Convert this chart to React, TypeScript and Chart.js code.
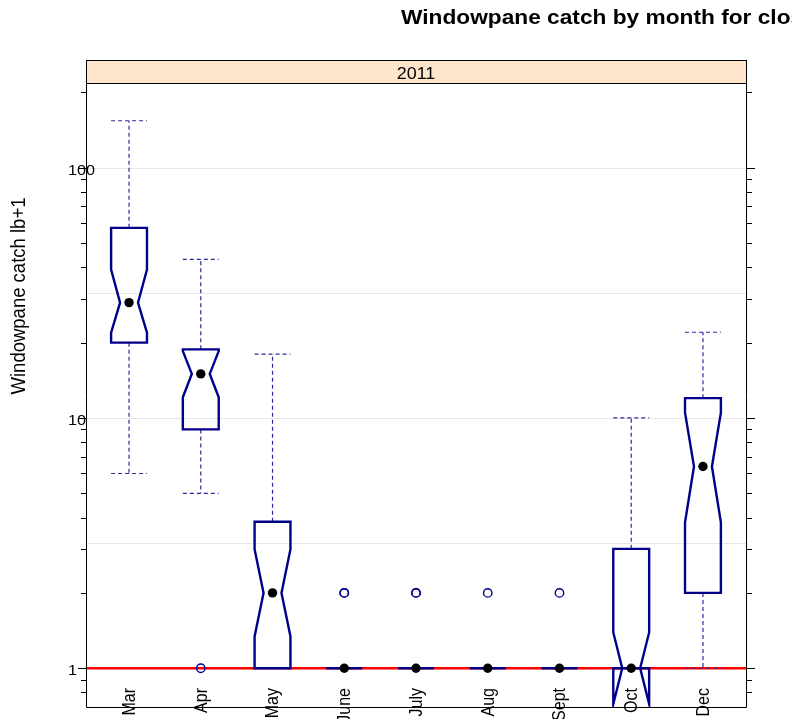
import React, { useEffect, useRef } from "react";
import { Chart, registerables } from "chart.js";

Chart.register(...registerables);

// ---- data ----
const titleText = "Windowpane catch by month for clos";
const stripLabel = "2011";
const yAxisLabel = "Windowpane catch lb+1";
const categories = ["Mar", "Apr", "May", "June", "July", "Aug", "Sept", "Oct", "Dec"];
const whiskerLow = [6, 5, 1, 1, 1, 1, 1, 1, 1];
const boxLow = [20, 9, 1, 1, 1, 1, 1, 1, 2];
const medians = [28.9, 15, 2, 1, 1, 1, 1, 1, 6.4];
const boxHigh = [57.5, 18.8, 3.85, 1, 1, 1, 1, 3, 12];
const whiskerHigh = [154, 43, 18, 1, 1, 1, 1, 10, 22];
const notchLow = [21.9, 12.1, 1.34, 1, 1, 1, 1, 0.72, 3.83];
const notchHigh = [39.2, 18.5, 2.99, 1, 1, 1, 1, 1.39, 10.5];
const outliers: number[][] = [[], [1], [], [2, 2], [2, 2], [2], [2], [], []];
const referenceValue = 1;
const yMin = 0.705;
const yMax = 218;
const yTickLabels = [1, 10, 100];
const yMinorTicks = [0.8, 0.9, 1, 2, 3, 4, 5, 6, 7, 8, 9, 10, 20, 30, 40, 50, 60, 70, 80, 90, 100, 200];
const gridValues = [1, 3.1623, 10, 31.623, 100];

const BOX_COL = "#00008B";
const WHISK_COL = "#2a2aa0";
const FONT = '"Liberation Sans", Arial, Helvetica, sans-serif';

const boxPlugin = {
  id: "latticeBox",
  beforeDatasetsDraw(chart: any) {
    const { ctx, chartArea: a, scales } = chart;
    const y = scales.y;
    ctx.save();
    ctx.strokeStyle = "#E6E6E6";
    ctx.lineWidth = 1;
    gridValues.forEach((v) => {
      const py = Math.round(y.getPixelForValue(v)) + 0.5;
      ctx.beginPath();
      ctx.moveTo(a.left, py);
      ctx.lineTo(a.right, py);
      ctx.stroke();
    });
    ctx.restore();
  },
  afterDatasetDraw(chart: any, args: any) {
    if (args.index !== 0) return;
    const { ctx, scales, chartArea: a } = chart;
    const xs = scales.x;
    const ys = scales.y;
    const half = 0.25;
    const inner = 0.125;
    ctx.save();
    ctx.beginPath();
    ctx.rect(a.left, a.top, a.right - a.left, a.bottom - a.top);
    ctx.clip();
    categories.forEach((_, i) => {
      const c = i + 1;
      const L = xs.getPixelForValue(c - half);
      const R = xs.getPixelForValue(c + half);
      const iL = xs.getPixelForValue(c - inner);
      const iR = xs.getPixelForValue(c + inner);
      const C = xs.getPixelForValue(c);
      const hi = ys.getPixelForValue(boxHigh[i]);
      const lo = ys.getPixelForValue(boxLow[i]);
      const md = ys.getPixelForValue(medians[i]);
      const nh = ys.getPixelForValue(notchHigh[i]);
      const nl = ys.getPixelForValue(notchLow[i]);
      const wh = ys.getPixelForValue(whiskerHigh[i]);
      const wl = ys.getPixelForValue(whiskerLow[i]);
      // whiskers
      ctx.strokeStyle = WHISK_COL;
      ctx.lineWidth = 1.2;
      ctx.setLineDash([4, 3]);
      ctx.beginPath();
      ctx.moveTo(C, hi);
      ctx.lineTo(C, wh);
      ctx.moveTo(L, wh);
      ctx.lineTo(R, wh);
      ctx.moveTo(C, lo);
      ctx.lineTo(C, wl);
      ctx.moveTo(L, wl);
      ctx.lineTo(R, wl);
      ctx.stroke();
      ctx.setLineDash([]);
      // notched box
      ctx.strokeStyle = BOX_COL;
      ctx.lineWidth = 2.4;
      ctx.lineJoin = "miter";
      ctx.beginPath();
      ctx.moveTo(L, hi);
      ctx.lineTo(L, nh);
      ctx.lineTo(iL, md);
      ctx.lineTo(L, nl);
      ctx.lineTo(L, lo);
      ctx.lineTo(R, lo);
      ctx.lineTo(R, nl);
      ctx.lineTo(iR, md);
      ctx.lineTo(R, nh);
      ctx.lineTo(R, hi);
      ctx.closePath();
      ctx.stroke();
    });
    ctx.restore();
  },
  afterDraw(chart: any) {
    const { ctx, chartArea: a, scales } = chart;
    const xs = scales.x;
    const ys = scales.y;
    ctx.save();
    // panel frame
    ctx.strokeStyle = "#000";
    ctx.lineWidth = 1;
    ctx.beginPath();
    ctx.moveTo(a.left + 0.5, a.top);
    ctx.lineTo(a.left + 0.5, a.bottom + 0.5);
    ctx.lineTo(a.right + 0.5, a.bottom + 0.5);
    ctx.lineTo(a.right + 0.5, a.top);
    ctx.stroke();
    // strip
    const stripTop = a.top - 23;
    ctx.fillStyle = "#FFE5CC";
    ctx.fillRect(a.left, stripTop, a.right - a.left, 23);
    ctx.strokeRect(a.left + 0.5, stripTop + 0.5, a.right - a.left, 23);
    ctx.fillStyle = "#000";
    ctx.font = `16px ${FONT}`;
    ctx.textAlign = "center";
    ctx.textBaseline = "alphabetic";
    ctx.save();
    ctx.translate((a.left + a.right) / 2, stripTop + 19);
    ctx.scale(1.12, 1);
    ctx.fillText(stripLabel, 0, 0);
    ctx.restore();
    // y ticks on both sides
    yMinorTicks.forEach((v) => {
      const py = Math.round(ys.getPixelForValue(v)) + 0.5;
      if (py < a.top - 20 || py > a.bottom) return;
      const major = yTickLabels.includes(v);
      const len = major ? 8 : 5;
      ctx.beginPath();
      ctx.moveTo(a.left, py);
      ctx.lineTo(a.left - len, py);
      ctx.moveTo(a.right + 1, py);
      ctx.lineTo(a.right + 1 + len, py);
      ctx.stroke();
    });
    // y tick labels
    ctx.font = `15px ${FONT}`;
    ctx.textAlign = "left";
    ctx.textBaseline = "middle";
    yTickLabels.forEach((v) => {
      const py = ys.getPixelForValue(v);
      ctx.save();
      ctx.translate(68, py + 3);
      ctx.scale(1.08, 1);
      ctx.fillText(String(v), 0, 0);
      ctx.restore();
    });
    // x category labels (rotated)
    ctx.font = `16px ${FONT}`;
    ctx.textAlign = "right";
    ctx.textBaseline = "middle";
    categories.forEach((c, i) => {
      const px = xs.getPixelForValue(i + 1);
      ctx.save();
      ctx.translate(px + 1, a.bottom - 19);
      ctx.rotate(-Math.PI / 2);
      ctx.scale(1, 1.12);
      ctx.fillText(c, 0, 0);
      ctx.restore();
    });
    // y axis label
    ctx.font = `18.5px ${FONT}`;
    ctx.textAlign = "center";
    ctx.textBaseline = "alphabetic";
    ctx.save();
    ctx.translate(25, 296);
    ctx.rotate(-Math.PI / 2);
    ctx.scale(1, 1.1);
    ctx.fillText(yAxisLabel, 0, 0);
    ctx.restore();
    // title
    ctx.font = `bold 20px ${FONT}`;
    ctx.textAlign = "left";
    ctx.save();
    ctx.translate(401, 24);
    ctx.scale(1.135, 1);
    ctx.fillText(titleText, 0, 0);
    ctx.restore();
    ctx.restore();
  },
};

export default function App() {
  const ref = useRef<HTMLCanvasElement | null>(null);
  useEffect(() => {
    if (!ref.current) return;
    const xMin = 0.4;
    const xMax = categories.length + 0.6;
    const medianPts = medians.map((m, i) => ({ x: i + 1, y: m }));
    const outlierPts: { x: number; y: number }[] = [];
    outliers.forEach((arr, i) => arr.forEach((v) => outlierPts.push({ x: i + 1, y: v })));
    const chart = new Chart(ref.current, {
      type: "scatter",
      data: {
        datasets: [
          {
            type: "line",
            data: [
              { x: xMin, y: referenceValue },
              { x: xMax, y: referenceValue },
            ],
            borderColor: "#FF0000",
            borderWidth: 2.5,
            pointRadius: 0,
            order: 3,
          } as any,
          {
            data: outlierPts,
            pointStyle: "circle",
            pointRadius: 4.2,
            borderWidth: 1.4,
            borderColor: BOX_COL,
            backgroundColor: "rgba(0,0,0,0)",
            order: 2,
          },
          {
            data: medianPts,
            pointStyle: "circle",
            pointRadius: 4.7,
            borderWidth: 0,
            backgroundColor: "#000",
            borderColor: "#000",
            order: 1,
          },
        ],
      },
      options: {
        responsive: false,
        animation: false,
        events: [],
        layout: { padding: { left: 86, right: 46, top: 83, bottom: 12 } },
        plugins: { legend: { display: false }, tooltip: { enabled: false }, title: { display: false } },
        scales: {
          x: { type: "linear", min: xMin, max: xMax, display: false },
          y: { type: "logarithmic", min: yMin, max: yMax, display: false },
        },
      },
      plugins: [boxPlugin],
    });
    return () => chart.destroy();
  }, []);
  return (
    <div style={{ position: "fixed", left: 0, top: 0, width: 792, height: 719, background: "#fff", overflow: "hidden" }}>
      <canvas ref={ref} width={792} height={719} style={{ display: "block", width: 792, height: 719 }} />
    </div>
  );
}
